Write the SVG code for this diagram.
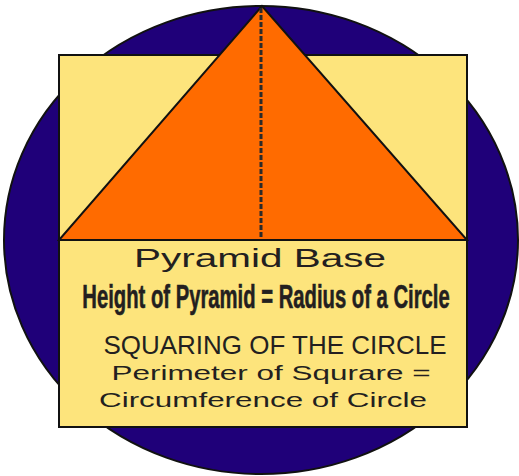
<svg xmlns="http://www.w3.org/2000/svg" width="519" height="476" viewBox="0 0 519 476">
<style>
.ln{stroke:#111;stroke-width:2;stroke-linejoin:miter}
.t{fill:#231f20;font-family:"Liberation Sans",Arial,sans-serif;text-anchor:middle}
</style>
<g id="circle"><ellipse cx="261" cy="240" rx="257" ry="234" fill="#1f0079" class="ln"/></g>
<g id="square"><rect x="59" y="55" width="408" height="372" fill="#fde47c" class="ln"/></g>
<g id="pyramid"><polygon points="262,6 59,240 467,240" fill="#ff6b00" class="ln"/></g>
<g id="connectors"><line x1="261" y1="8" x2="261" y2="239" stroke="#2a2a2a" stroke-width="3" stroke-dasharray="5,2"/></g>
<g id="labels">
<text class="t" x="260" y="267" font-size="25" textLength="252" lengthAdjust="spacingAndGlyphs">Pyramid Base</text>
<text class="t" transform="translate(266,308) scale(0.596,1)" x="0" y="0" font-size="34" font-weight="bold" stroke="#231f20" stroke-width="0.6">Height of Pyramid = Radius of a Circle</text>
<text class="t" x="275" y="354" font-size="25" textLength="343" lengthAdjust="spacingAndGlyphs">SQUARING OF THE CIRCLE</text>
<text class="t" x="271" y="380" font-size="20" textLength="319" lengthAdjust="spacingAndGlyphs">Perimeter of Squrare =</text>
<text class="t" x="263" y="407" font-size="20" textLength="328" lengthAdjust="spacingAndGlyphs">Circumference of Circle</text>
</g>
</svg>
